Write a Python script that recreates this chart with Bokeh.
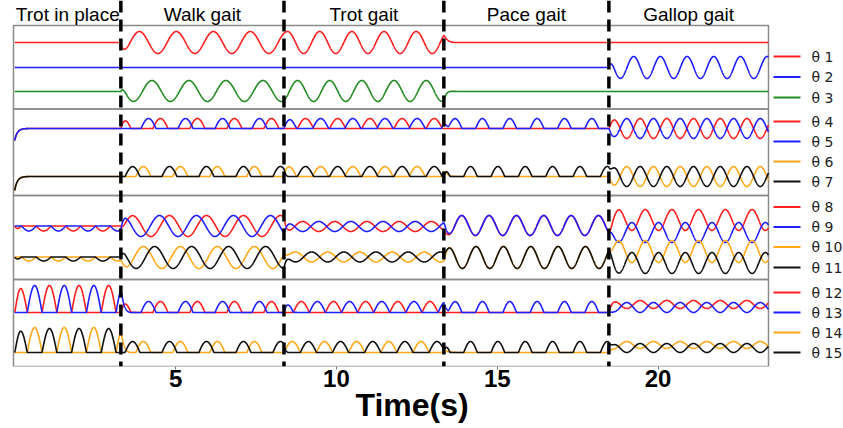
import numpy as np
from bokeh.plotting import figure
from bokeh.models import Range1d, FixedTicker, Title
from bokeh.core.properties import value
from bokeh.embed import file_html
from bokeh.resources import INLINE

# ---------------- data ----------------
GAITS = ["Trot in place", "Walk gait", "Trot gait", "Pace gait", "Gallop gait"]
SWITCH_T = [0.0, 3.3, 8.37, 13.34, 18.47, 23.43]      # s, gait switch instants
PERIOD = [0.92, 1.15, 1.0, 0.85, 0.83]                # s, oscillation period per gait
HUMP_CUT = [0.0, 0.3, 0.0, 0.0, 0.0]                  # swing-phase cut of knee humps
X_TICKS = [5, 10, 15, 20]
LABELS = ["θ %d" % i for i in range(1, 16)]
COLORS = ["#ff1f1f", "#1f1fff", "#228b22",
          "#ff1f1f", "#1f1fff", "#ffa81a", "#111111",
          "#ff1f1f", "#1f1fff", "#ffa81a", "#111111",
          "#ff1f1f", "#1f1fff", "#ffa81a", "#111111"]

# waveform kind per gait: f flat, s sine, h hump (rectified), d dip
SHAPE = ["fssff", "ffffs", "fssff",
         "fhhfs", "fhhhs", "fhhfs", "fhhhs",
         "dssss", "dssss", "dssss", "dssss",
         "hhhfs", "hhhhs", "hhhfs", "hhhhs"]
AMP = [[0, 11, 11, 0, 0], [0, 0, 0, 0, 11], [0, 10.5, 10.5, 0, 0],
       [0, 10, 10, 0, 10], [0, 10, 10, 10, 10], [0, 10, 10, 0, 10], [0, 10, 10, 10, 10],
       [5, 10.5, 5, 10, 10.5], [5, 10.5, 5, 10, 10], [4, 11, 5, 11, 11], [4, 11, 5, 11, 10.5],
       [27, 11, 11, 0, 4], [27, 11, 11, 11, 5], [25, 11, 11, 0, 3.5], [24, 11, 11, 11, 4.5]]
PHASE = [[0, -1.57, 0.88, 0, 0], [0, 0, 0, 0, 2.02], [0, 2.58, -1.07, 0, 0],
         [0, 1.13, -2.64, 0, 0.51], [0, -3.13, 0.69, -1.01, 3.65],
         [0, -2.25, 0.69, 0, 3.65], [0, -0.40, -2.64, 1.72, 0.51],
         [1.71, -0.40, -2.07, -2.54, -0.70], [-1.43, 1.30, 1.07, -2.54, 2.44],
         [-1.43, -2.25, -0.69, 0.45, -0.70], [1.71, 2.12, 2.45, 0.45, 2.44],
         [0.48, 1.13, -1.82, 0, 0.51], [3.62, -3.13, 1.32, -1.01, 3.65],
         [3.62, -2.25, -0.06, 0, 3.65], [0.48, -0.40, -3.20, 1.72, 0.51]]
SHIFT = [[0, 0, 0, 0, 0], [0, 0, 0, 0, 0], [0, 0.5, 0.5, 0, 0],
         [0, 0, 0, 0, 0], [0, 0, 0, 0, 0], [0, 0, 0, 0, 0], [0, 0, 0, 0, 0],
         [0, 0, -0.5, 0.5, 6], [0, 0, -0.5, 0.5, -6.5], [0, -0.5, 0, -0.5, 5.5], [0, -0.5, 0, -0.5, -6],
         [0, 0, 0, 0, 8], [0, 0, 0, 0, 5], [0, 0, 0, 0, 7.5], [0, 0, 0, 0, 4.5]]
INIT = [0, 0, 0, -12, -12, -14, -14, 0, 0, 0, 0, 0, 0, 0, 0]
TAU = 0.08  # s, transition settling time

# ---------------- layout (pixel rows/cols of the picture) ----------------
W, H = 843, 428
PX0, PX_PER_S = 14.2, 32.17
def tx(px):
    return (px - PX0) / PX_PER_S

AXIS_ROW = 366
BASE_ROW = [42, 67, 91, 128, 128, 176, 176, 225.5, 225.5, 256.5, 256.5, 312, 312, 352, 352]
LEG_ROW = [56, 76.5, 97, 121, 141, 161, 181, 206.5, 226.5, 246.5, 267, 292, 312, 332, 352]
PANEL_EDGES = [25, 108.5, 195, 279, AXIS_ROW]

t = np.linspace(0, SWITCH_T[-1], 6000)

def wave(j, k, tt):
    kind = SHAPE[j][k]
    a, ph, off = AMP[j][k], PHASE[j][k], SHIFT[j][k]
    s = np.sin(2 * np.pi * (tt - SWITCH_T[k]) / PERIOD[k] + ph)
    if kind == "f":
        return np.full_like(tt, off, dtype=float)
    if kind == "s":
        return off + a * s
    if kind == "h":
        c = HUMP_CUT[k]
        return off + a * np.clip((s - c) / (1 - c), 0, None)
    return off - a * np.clip(s, 0, None)

def signal(j):
    v = np.zeros_like(t)
    for k in range(5):
        m = (t >= SWITCH_T[k]) & (t <= SWITCH_T[k + 1])
        tt = t[m]
        cur = wave(j, k, tt)
        prev = np.full_like(tt, INIT[j], dtype=float) if k == 0 else wave(j, k - 1, tt)
        v[m] = cur + (prev - cur) * np.exp(-(tt - SWITCH_T[k]) / TAU)
    return v

p = figure(width=W, height=H, x_range=Range1d(tx(0), tx(W)), y_range=Range1d(AXIS_ROW, 0),
           output_backend="svg", toolbar_location=None, y_axis_location=None,
           min_border_left=0, min_border_right=0, min_border_top=0,
           min_border_bottom=H - AXIS_ROW)
p.outline_line_color = None
p.xgrid.visible = False
p.ygrid.visible = False
p.background_fill_color = "white"

ax = p.xaxis[0]
ax.ticker = FixedTicker(ticks=X_TICKS)
ax.axis_line_color = None
ax.major_tick_out = 3
ax.major_tick_in = 0
ax.major_tick_line_color = "#777777"
ax.minor_tick_out = 0
ax.minor_tick_in = 0
ax.major_label_text_font = "Liberation Sans"
ax.major_label_text_font_style = "bold"
ax.major_label_text_font_size = "24px"
ax.major_label_text_color = "black"
ax.major_label_standoff = 0

p.add_layout(Title(text="Time(s)", text_font="Liberation Sans", text_font_style="bold",
                   text_font_size="32px", align="left", offset=355, standoff=-10,
                   text_color="black"), "below")

# panel frames
p.quad(left=tx(13), right=tx(768), top=PANEL_EDGES[:-1], bottom=PANEL_EDGES[1:],
       fill_color=None, line_color="#8a8a8a", line_width=1.5)

for j in range(15):
    p.line(t, BASE_ROW[j] - signal(j), line_color=COLORS[j], line_width=1.6)

# gait switch markers
p.segment(x0=SWITCH_T[1:5], y0=0, x1=SWITCH_T[1:5], y1=AXIS_ROW, line_color="black",
          line_width=3.5, line_dash="12 7")

# gait titles
mids = [(SWITCH_T[k] + SWITCH_T[k + 1]) / 2 for k in range(5)]
p.text(x=mids, y=[13.5] * 5, text=GAITS, text_font=value("Liberation Sans"),
       text_font_size="19px", text_align="center", text_baseline="middle", text_color="black")

# legends
p.segment(x0=[tx(773)] * 15, y0=LEG_ROW, x1=[tx(800)] * 15, y1=LEG_ROW,
          line_color=COLORS, line_width=2)
p.text(x=[tx(811)] * 15, y=LEG_ROW, text=LABELS, text_font=value("DejaVu Sans"),
       text_font_size="14px", text_align="left", text_baseline="middle", text_color="#222222")

open("out.html", "w").write(file_html(p, INLINE))
